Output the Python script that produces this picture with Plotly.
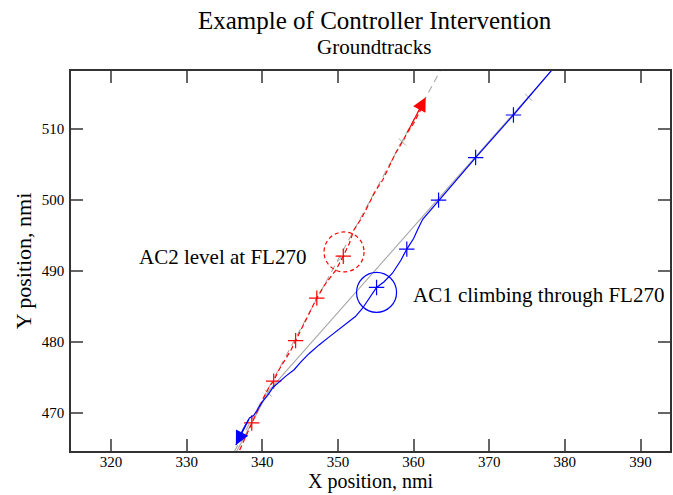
import plotly.graph_objects as go

# ---------------- data ----------------
# AC1 flown track (starts top right, flies south-west)
ac1_x = [378.25, 373.2, 368.2, 363.3, 362.2, 361.2, 360.6, 360.0, 359.1, 358.3, 357.2, 356.1,
         355.1, 354.3, 353.2, 352.3, 350.1, 348.8, 347.5, 346.2, 345.1, 344.2, 343.1, 342.2,
         341.4, 340.7, 340.0, 339.6, 338.9, 338.3, 337.9, 337.4, 336.5]
ac1_y = [518.3, 512.0, 506.0, 500.0, 498.6, 497.3, 496.0, 494.6, 493.1, 491.5, 489.7, 488.5,
         487.7, 486.4, 484.7, 483.6, 481.7, 480.7, 479.6, 478.4, 477.2, 476.1, 475.2, 474.4,
         473.6, 472.5, 471.6, 470.9, 469.7, 469.3, 468.5, 467.6, 465.5]
ac1_mark_x = [373.2, 368.2, 363.3, 359.1, 355.1]
ac1_mark_y = [512.0, 506.0, 500.0, 493.1, 487.7]

# AC2 flown track (starts bottom left, flies north-east)
ac2_x = [337.0, 338.6, 340.0, 340.9, 341.5, 342.2, 343.1, 343.8, 344.4, 345.1, 346.0, 347.2,
         348.2, 349.7, 350.7, 351.5, 352.1, 353.2, 354.1, 355.0, 355.9, 356.7, 357.6, 358.5,
         359.1, 360.0, 361.1, 361.6]
ac2_y = [464.8, 468.6, 471.8, 473.7, 474.5, 476.1, 477.7, 478.9, 480.2, 481.7, 483.6, 486.2,
         488.0, 490.1, 492.1, 493.9, 495.8, 497.6, 499.5, 501.4, 502.8, 504.7, 506.6, 508.2,
         509.4, 510.8, 513.1, 514.5]
ac2_mark_x = [338.6, 341.5, 344.4, 347.2, 350.7]
ac2_mark_y = [468.6, 474.5, 480.2, 486.2, 492.1]

# planned routes
route1_x = [378.2, 340.9, 336.6]
route1_y = [518.2, 473.2, 464.6]
route2_x = [336.3, 363.5]
route2_y = [464.6, 518.2]
intent_x = [375.2, 340.8, 350.4, 358.5]
intent_y = [514.5, 472.8, 491.8, 508.2]

# highlighted conflict positions
ac2_circle = (350.8, 492.7)
ac1_circle = (355.1, 487.0)

x_ticks = [320, 330, 340, 350, 360, 370, 380, 390]
y_ticks = [470, 480, 490, 500, 510]

FONT = "Liberation Serif, Times New Roman, serif"
BLUE = "#0000ff"
RED = "#ff0000"
GRAY = "#a8a8a8"

fig = go.Figure()

fig.add_trace(go.Scatter(x=route2_x, y=route2_y, mode="lines",
                         line=dict(color=GRAY, width=1.1, dash="7px,5px"), hoverinfo="skip"))
fig.add_trace(go.Scatter(x=route1_x, y=route1_y, mode="lines",
                         line=dict(color=GRAY, width=1.1), hoverinfo="skip"))
fig.add_trace(go.Scatter(x=intent_x, y=intent_y, mode="markers",
                         marker=dict(symbol="x-thin", size=7, line=dict(color=GRAY, width=1))))
fig.add_trace(go.Scatter(x=ac2_x, y=ac2_y, mode="lines",
                         line=dict(color=RED, width=1.2, dash="5px,3px")))
fig.add_trace(go.Scatter(x=ac2_mark_x, y=ac2_mark_y, mode="markers",
                         marker=dict(symbol="cross-thin", size=11, line=dict(color=RED, width=1.2))))
fig.add_trace(go.Scatter(x=ac1_x, y=ac1_y, mode="lines",
                         line=dict(color=BLUE, width=1.2)))
fig.add_trace(go.Scatter(x=ac1_mark_x, y=ac1_mark_y, mode="markers",
                         marker=dict(symbol="cross-thin", size=11, line=dict(color=BLUE, width=1.2))))

# direction arrows
fig.add_annotation(x=ac1_x[-1], y=ac1_y[-1], ax=ac1_x[-4], ay=ac1_y[-4], xref="x", yref="y",
                   axref="x", ayref="y", text="", showarrow=True, arrowhead=2, arrowsize=2.3,
                   arrowwidth=1.2, arrowcolor=BLUE)
fig.add_annotation(x=ac2_x[-1], y=ac2_y[-1], ax=ac2_x[-4], ay=ac2_y[-4], xref="x", yref="y",
                   axref="x", ayref="y", text="", showarrow=True, arrowhead=2, arrowsize=2.3,
                   arrowwidth=1.2, arrowcolor=RED)

# circles
for (cx, cy), col, dash in [(ac2_circle, RED, "4px,3px"), (ac1_circle, BLUE, "solid")]:
    fig.add_shape(type="circle", xref="x", yref="y", xsizemode="pixel", ysizemode="pixel",
                  xanchor=cx, yanchor=cy, x0=-20, x1=20, y0=-20, y1=20,
                  line=dict(color=col, width=1.2, dash=dash))

fig.add_annotation(x=323.4, y=492.0, text="AC2 level at FL270", showarrow=False,
                   xanchor="left", yanchor="middle", font=dict(family=FONT, size=21, color="black"))
fig.add_annotation(x=359.6, y=486.6, text="AC1 climbing through FL270", showarrow=False,
                   xanchor="left", yanchor="middle", font=dict(family=FONT, size=21, color="black"))

# titles
fig.add_annotation(x=0.507, y=1.134, xref="paper", yref="paper", text="Example of Controller Intervention",
                   showarrow=False, xanchor="center", yanchor="middle",
                   font=dict(family=FONT, size=25, color="black"))
fig.add_annotation(x=0.506, y=1.063, xref="paper", yref="paper", text="Groundtracks",
                   showarrow=False, xanchor="center", yanchor="middle",
                   font=dict(family=FONT, size=21, color="black"))
# x-axis title
fig.add_annotation(x=0.5, y=-0.1155, xref="paper", yref="paper", text="X position, nmi",
                   showarrow=False, xanchor="center", yanchor="bottom",
                   font=dict(family=FONT, size=20, color="black"))

axis_common = dict(showgrid=False, zeroline=False, showline=True, linecolor="#333333", linewidth=1.5,
                   mirror="ticks", ticks="inside", ticklen=12, tickwidth=1.5, tickcolor="#666666",
                   tickfont=dict(family=FONT, size=15, color="black"))

fig.update_layout(
    width=673, height=495,
    margin=dict(l=71, r=1, t=71, b=44),
    paper_bgcolor="white", plot_bgcolor="white",
    showlegend=False,
    xaxis=dict(range=[314.7, 393.9], tickvals=x_ticks, ticklabelstandoff=-4, **axis_common),
    yaxis=dict(range=[464.65, 518.2], tickvals=y_ticks, ticklabelstandoff=2,
               title=dict(text="Y position, nmi", font=dict(family=FONT, size=22, color="black"), standoff=4),
               **axis_common),
)

fig.write_html("out.html")
